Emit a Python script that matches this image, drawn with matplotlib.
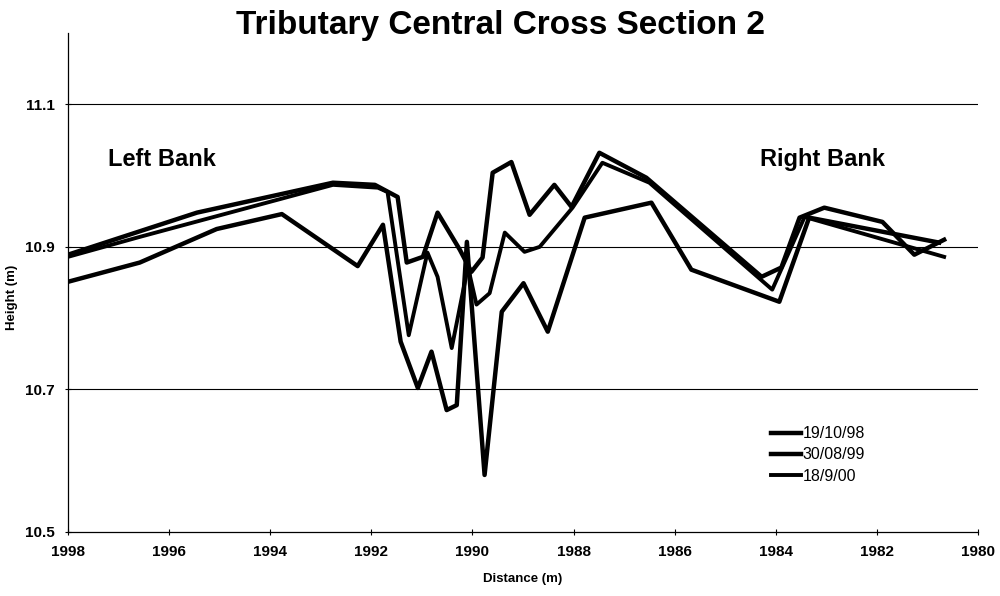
import matplotlib
matplotlib.use("Agg")
import matplotlib.pyplot as plt

plt.rcParams['font.family'] = ['Liberation Sans', 'DejaVu Sans']

# distance / height readings for each survey
dist_98 = [1998.00, 1996.58, 1995.06, 1993.77, 1992.27, 1991.77, 1991.42, 1991.08,
           1990.81, 1990.51, 1990.31, 1990.11, 1989.76, 1989.42, 1988.99, 1988.51,
           1987.78, 1986.46, 1985.67, 1983.93, 1983.34, 1980.77]
height_98 = [10.851, 10.878, 10.925, 10.946, 10.873, 10.931, 10.767, 10.702,
             10.753, 10.671, 10.678, 10.907, 10.580, 10.809, 10.849, 10.781,
             10.941, 10.962, 10.868, 10.823, 10.941, 10.906]

dist_99 = [1998.00, 1995.45, 1992.76, 1991.93, 1991.48, 1991.30, 1990.98, 1990.69,
           1990.25, 1990.02, 1989.80, 1989.60, 1989.23, 1988.87, 1988.38, 1988.04,
           1987.49, 1986.56, 1984.28, 1983.89, 1983.53, 1983.04, 1981.89, 1981.26,
           1980.67]
height_99 = [10.889, 10.948, 10.990, 10.987, 10.970, 10.878, 10.886, 10.948,
             10.896, 10.865, 10.885, 11.004, 11.019, 10.945, 10.987, 10.956,
             11.032, 10.997, 10.858, 10.871, 10.941, 10.955, 10.935, 10.889,
             10.910]

dist_00 = [1998.00, 1996.58, 1992.76, 1991.87, 1991.68, 1991.26, 1990.89, 1990.69,
           1990.41, 1990.09, 1989.92, 1989.66, 1989.36, 1988.97, 1988.67, 1988.02,
           1987.43, 1986.50, 1984.07, 1983.43, 1980.67]
height_00 = [10.886, 10.914, 10.987, 10.983, 10.977, 10.776, 10.892, 10.858,
             10.758, 10.872, 10.819, 10.835, 10.920, 10.893, 10.900, 10.955,
             11.018, 10.990, 10.840, 10.942, 10.886]

labels = ["19/10/98", "30/08/99", "18/9/00"]
xticks = [1998, 1996, 1994, 1992, 1990, 1988, 1986, 1984, 1982, 1980]
yticks = [10.5, 10.7, 10.9, 11.1]

fig = plt.figure(figsize=(10, 5.96), dpi=100)
ax = fig.add_axes([0.068, 0.1074, 0.910, 0.8372])

for y in yticks[1:]:
    ax.axhline(y, color="black", lw=0.8, zorder=1)

ax.plot(dist_98, height_98, color="black", lw=3.2, label=labels[0], zorder=3)
ax.plot(dist_99, height_99, color="black", lw=3.2, label=labels[1], zorder=3)
ax.plot(dist_00, height_00, color="black", lw=2.8, label=labels[2], zorder=3)

ax.set_xlim(1998, 1980)
ax.set_ylim(10.5, 11.2)
ax.set_xticks(xticks)
ax.set_xticklabels([str(t) for t in xticks], fontsize=11, fontweight="bold")
ax.set_yticks(yticks)
ax.set_yticklabels(["%.1f" % t for t in yticks], fontsize=11, fontweight="bold")
ax.tick_params(direction="inout", length=5, width=0.8, pad=7)

for s in ["top", "right"]:
    ax.spines[s].set_visible(False)
ax.spines["left"].set_linewidth(0.9)
ax.spines["bottom"].set_linewidth(0.9)

ax.set_xlabel("Distance (m)", fontsize=9.5, fontweight="bold", labelpad=10)
ax.set_ylabel("Height (m)", fontsize=9.5, fontweight="bold")
ax.yaxis.set_label_coords(-0.055, 0.47)

fig.text(0.5, 0.958, "Tributary Central Cross Section 2", ha="center", va="center",
         fontsize=24, fontweight="bold")
ax.text(1997.2, 11.022, "Left Bank", fontsize=17, fontweight="bold", va="center")
ax.text(1984.32, 11.022, "Right Bank", fontsize=17, fontweight="bold", va="center")

ax.legend(loc="upper left", bbox_to_anchor=(0.765, 0.225), frameon=False,
          fontsize=11.5, handlelength=1.9, handletextpad=0.1, labelspacing=0.4,
          borderaxespad=0)

fig.savefig("out.png", dpi=100)
